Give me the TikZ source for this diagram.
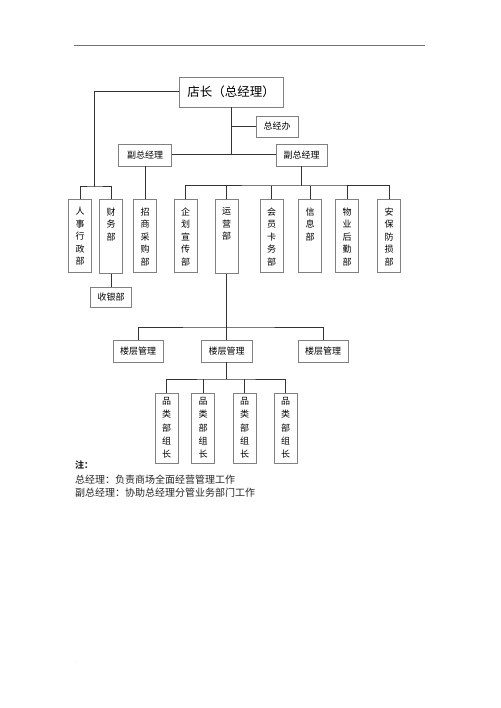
\documentclass[tikz,border=0pt]{standalone}
\usepackage{fontspec}
\newfontfamily\cjk{Noto Sans CJK SC}
\usetikzlibrary{positioning}

\newcommand{\vlabel}[3]{\parbox[c][#1][t]{23pt}{\centering\vspace*{#2}#3\par}}

\tikzset{
  box/.style={draw=black!50, line width=0.9pt, rectangle, inner sep=0pt,
              font=\cjk\fontsize{9}{12.5}\selectfont, text=black},
  hbox/.style={box, minimum height=22pt},
  dept/.style={box, anchor=north},
  lead/.style={dept, font=\cjk\fontsize{9}{13.2}\selectfont},
  link/.style={draw=black!80, line width=1pt},
  note/.style={anchor=west, inner sep=0pt, font=\cjk\fontsize{10}{12}\selectfont, text=black!85},
}

\begin{document}
\begin{tikzpicture}[x=1pt, y=-1pt]
  \useasboundingbox[fill=white] (0,0) rectangle (500,708);

  % page rule
  \draw[black!55, line width=0.8pt] (74,45.5) -- (425,45.5);
  \node[inner sep=0pt, font=\tiny, text=black!40] (dotT) at (425,42) {.};

  % top level
  \node[box, minimum width=104pt, minimum height=30pt, font=\cjk\fontsize{12.5}{14}\selectfont]
        (boss) at (231,92) {店长（总经理）};
  \node[hbox, minimum width=42pt, minimum height=21pt] (office) at (277,126.5) {总经办};
  \node[hbox, minimum width=53pt] (vpL) at (145,155) {副总经理};
  \node[hbox, minimum width=51pt] (vpR) at (301.5,155) {副总经理};

  % departments
  \node[dept] (hr)     at (80,199)    {\vlabel{73pt}{8pt}{人\\事\\行\\政\\部}};
  \node[dept] (fin)    at (111,199)   {\vlabel{74pt}{8pt}{财\\务\\部}};
  \node[dept] (buy)    at (145,199)   {\vlabel{73pt}{8pt}{招\\商\\采\\购\\部}};
  \node[dept] (promo)  at (185.5,199) {\vlabel{73pt}{8pt}{企\\划\\宣\\传\\部}};
  \node[dept] (ops)    at (226.5,199) {\vlabel{74pt}{8pt}{运\\营\\部}};
  \node[dept] (member) at (271.5,199) {\vlabel{73pt}{8pt}{会\\员\\卡\\务\\部}};
  \node[dept] (info)   at (310,199)   {\vlabel{73pt}{8pt}{信\\息\\部}};
  \node[dept] (estate) at (347,199)   {\vlabel{73pt}{8pt}{物\\业\\后\\勤\\部}};
  \node[dept] (secur)  at (389,199)   {\vlabel{73pt}{8pt}{安\\保\\防\\损\\部}};

  \node[hbox, minimum width=41pt, minimum height=20pt] (cash) at (111,297) {收银部};

  % floors
  \node[hbox, minimum width=50pt] (floorL) at (138,351)   {楼层管理};
  \node[hbox, minimum width=51pt] (floorM) at (226.5,351) {楼层管理};
  \node[hbox, minimum width=50pt] (floorR) at (323,351)   {楼层管理};

  % category leaders
  \node[lead] (lead1) at (166.5,393) {\vlabel{70pt}{4pt}{品\\类\\部\\组\\长}};
  \node[lead] (lead2) at (203,393)   {\vlabel{70pt}{4pt}{品\\类\\部\\组\\长}};
  \node[lead] (lead3) at (244.5,393) {\vlabel{70pt}{4pt}{品\\类\\部\\组\\长}};
  \node[lead] (lead4) at (285.5,393) {\vlabel{70pt}{4pt}{品\\类\\部\\组\\长}};

  % connectors
  \coordinate (hubL) at (94,187);
  \draw[link] (boss.west) -| (hubL);
  \draw[link] (hr.north) |- (hubL) -| (fin.north);
  \draw[link] (boss.south) -- (boss.south |- vpL.east);
  \draw[link] (boss.south |- office.west) -- (office.west);
  \draw[link] (vpL.east) -- (vpR.west);
  \draw[link] (vpL.south) -- (buy.north);
  \coordinate (hubR) at (301.5,186);
  \draw[link] (vpR.south) -- (hubR);
  \draw[link] (promo.north) |- (hubR) -| (secur.north);
  \foreach \d in {ops, member, info, estate}
    \draw[link] (\d.north) -- (\d.north |- hubR);
  \draw[link] (fin.south) -- (cash.north);

  \coordinate (hubF) at (226.5,327);
  \draw[link] (ops.south) -- (hubF);
  \draw[link] (floorL.north) |- (hubF) -| (floorR.north);
  \draw[link] (hubF) -- (floorM.north);

  \coordinate (hubG) at (226.5,379);
  \draw[link] (floorM.south) -- (hubG);
  \draw[link] (lead1.north) |- (hubG) -| (lead4.north);
  \foreach \g in {lead2, lead3}
    \draw[link] (\g.north) -- (\g.north |- hubG);

  % notes
  \node[note, font=\cjk\bfseries\fontsize{9}{11}\selectfont] (noteHead) at (75,465) {注：};
  \node[note] (note1) at (75,480) {总经理：负责商场全面经营管理工作};
  \node[note] (note2) at (75,493) {副总经理：协助总经理分管业务部门工作};

  \node[inner sep=0pt, font=\tiny, text=black!40] (dotB) at (76,662) {.};
\end{tikzpicture}
\end{document}
